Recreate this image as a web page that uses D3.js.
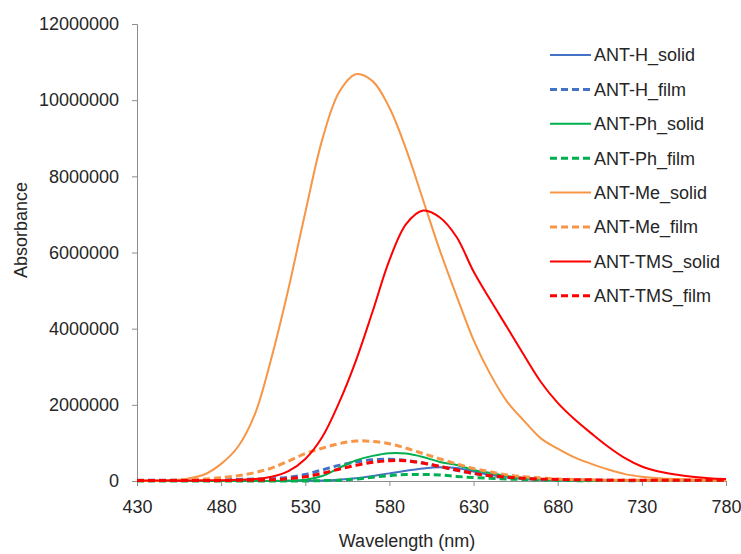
<!DOCTYPE html>
<html lang="en">
<head>
	<meta charset="UTF-8">
	<title>absorbance</title>
	<script src="https://d3js.org/d3.v7.min.js"></script>
	<style>
		body { margin: 0; background: #fff; }
		text { font-family: "Liberation Sans", Arial, sans-serif; fill: #262626; }
	</style>
</head>
<body>
	<script>

		// wavelengths (nm), one reading every 10 nm
		var wavelength = [430, 440, 450, 460, 470, 480, 490, 500, 510, 520, 530, 540, 550, 560, 570, 580, 590, 600,
			610, 620, 630, 640, 650, 660, 670, 680, 690, 700, 710, 720, 730, 740, 750, 760, 770, 780];

		// values in millions
		var hSolid = [0, 0, 0, 0, 0, 0, 0, 0, 0, 0, 0.01, 0.01, 0.03, 0.07, 0.13, 0.2, 0.27, 0.33,
			0.36, 0.34, 0.25, 0.16, 0.11, 0.07, 0.04, 0.03, 0.02, 0.02, 0.01, 0.01, 0.01, 0.01, 0.01, 0.01, 0.01, 0.01];
		var hFilm = [0.02, 0.02, 0.02, 0.02, 0.03, 0.03, 0.04, 0.05, 0.06, 0.1, 0.17, 0.29, 0.41, 0.5, 0.56, 0.57, 0.54, 0.47,
			0.38, 0.28, 0.2, 0.13, 0.09, 0.06, 0.04, 0.03, 0.02, 0.02, 0.02, 0.01, 0.01, 0.01, 0.01, 0.01, 0.01, 0.01];
		var phSolid = [0, 0, 0, 0, 0, 0, 0, 0, 0, 0.01, 0.03, 0.13, 0.34, 0.54, 0.66, 0.73, 0.72, 0.63,
			0.5, 0.42, 0.29, 0.21, 0.13, 0.08, 0.05, 0.03, 0.02, 0.01, 0.01, 0.01, 0.01, 0.01, 0.01, 0.01, 0.01, 0.01];
		var phFilm = [0, 0, 0, 0, 0, 0, 0, 0, 0, 0, 0, 0.01, 0.02, 0.05, 0.1, 0.14, 0.17, 0.17,
			0.16, 0.12, 0.09, 0.07, 0.05, 0.04, 0.03, 0.02, 0.01, 0.01, 0.01, 0.01, 0.01, 0.01, 0.01, 0.01, 0.01, 0.01];
		var meSolid = [0, 0, 0.02, 0.06, 0.17, 0.45, 0.9, 1.75, 3.25, 5.05, 7.05, 8.95, 10.2, 10.68, 10.5, 9.8, 8.7, 7.38,
			6.05, 4.85, 3.7, 2.8, 2.08, 1.58, 1.12, 0.85, 0.62, 0.45, 0.3, 0.18, 0.11, 0.07, 0.05, 0.04, 0.03, 0.02];
		var meFilm = [0.01, 0.01, 0.02, 0.03, 0.05, 0.09, 0.14, 0.22, 0.34, 0.52, 0.72, 0.86, 0.98, 1.05, 1.04, 0.98, 0.86, 0.72,
			0.58, 0.45, 0.33, 0.24, 0.16, 0.11, 0.08, 0.05, 0.04, 0.03, 0.02, 0.02, 0.02, 0.02, 0.02, 0.02, 0.02, 0.02];
		var tmsSolid = [0.01, 0.01, 0.01, 0.01, 0.02, 0.02, 0.03, 0.05, 0.11, 0.26, 0.58, 1.15, 2.05, 3.15, 4.45, 5.8, 6.75, 7.1,
			6.92, 6.4, 5.5, 4.75, 4.03, 3.3, 2.6, 2.05, 1.62, 1.25, 0.9, 0.6, 0.38, 0.25, 0.17, 0.11, 0.07, 0.05];
		var tmsFilm = [0.01, 0.01, 0.01, 0.01, 0.01, 0.01, 0.02, 0.02, 0.03, 0.06, 0.11, 0.2, 0.31, 0.41, 0.49, 0.53, 0.53, 0.47,
			0.38, 0.29, 0.2, 0.14, 0.1, 0.07, 0.05, 0.04, 0.03, 0.03, 0.02, 0.02, 0.02, 0.02, 0.02, 0.02, 0.02, 0.02];

		var seriesNames = ['ANT-H_solid', 'ANT-H_film', 'ANT-Ph_solid', 'ANT-Ph_film', 'ANT-Me_solid', 'ANT-Me_film', 'ANT-TMS_solid', 'ANT-TMS_film'];
		var seriesValues = [hSolid, hFilm, phSolid, phFilm, meSolid, meFilm, tmsSolid, tmsFilm];
		var seriesColors = ['#4472C4', '#4472C4', '#00B050', '#00B050', '#F79646', '#F79646', '#FF0000', '#FF0000'];
		var seriesDashed = [false, true, false, true, false, true, false, true];

		var xTicks = [430, 480, 530, 580, 630, 680, 730, 780];
		var yTicks = [0, 2000000, 4000000, 6000000, 8000000, 10000000, 12000000];

		var svg = d3.select("body").append("svg").attr("width", 741).attr("height", 554);

		var plotLeft = 137, plotRight = 726, plotTop = 24, plotBottom = 481;

		var x = d3.scaleLinear().domain([430, 780]).range([plotLeft, plotRight]);
		var y = d3.scaleLinear().domain([0, 12000000]).range([plotBottom, plotTop]);

		// axes
		var yAxis = svg.append("g").attr("transform", "translate(" + plotLeft + ",0)")
			.call(d3.axisLeft(y).tickValues(yTicks).tickFormat(d3.format("d")).tickSizeOuter(0).tickSize(5).tickPadding(13));
		var xAxis = svg.append("g").attr("transform", "translate(0," + plotBottom + ")")
			.call(d3.axisBottom(x).tickValues(xTicks).tickFormat(d3.format("d")).tickSizeOuter(0).tickSize(5).tickPadding(12));

		svg.selectAll(".domain, .tick line").attr("stroke", "#8c8c8c").attr("stroke-width", 1);
		svg.selectAll(".tick text").attr("font-size", 18).attr("fill", "#262626")
			.style("font-family", '"Liberation Sans", Arial, sans-serif');
		xAxis.selectAll(".tick text").attr("dy", "0.85em");

		// axis titles
		svg.append("text").attr("x", 407).attr("y", 547).attr("text-anchor", "middle").attr("font-size", 18).text("Wavelength (nm)");
		svg.append("text").attr("transform", "translate(27,230) rotate(-90)").attr("text-anchor", "middle").attr("font-size", 18).text("Absorbance");

		// curves
		var line = d3.line()
			.x(function (d) { return x(d[0]); })
			.y(function (d) { return y(Math.max(0, d[1]) * 1e6); })
			.curve(d3.curveCatmullRom.alpha(0.5));

		for (let s = 0; s < seriesNames.length; s++) {
			var pts = wavelength.map(function (w, i) { return [w, seriesValues[s][i]]; });
			svg.append("path")
				.attr("d", line(pts))
				.attr("fill", "none")
				.attr("stroke", seriesColors[s])
				.attr("stroke-width", seriesDashed[s] ? 3 : 2)
				.attr("stroke-dasharray", seriesDashed[s] ? "7,4" : null)
				.attr("stroke-linejoin", "round");
		}

		// legend
		var legend = svg.append("g");
		for (let s = 0; s < seriesNames.length; s++) {
			var ly = 55 + s * 34.4;
			legend.append("line").attr("x1", 550).attr("x2", 591).attr("y1", ly).attr("y2", ly)
				.attr("stroke", seriesColors[s])
				.attr("stroke-width", seriesDashed[s] ? 3 : 2)
				.attr("stroke-dasharray", seriesDashed[s] ? "7,4" : null);
			legend.append("text").attr("x", 594).attr("y", ly).attr("dy", "0.35em").attr("font-size", 18).text(seriesNames[s]);
		}

	</script>
</body>
</html>
